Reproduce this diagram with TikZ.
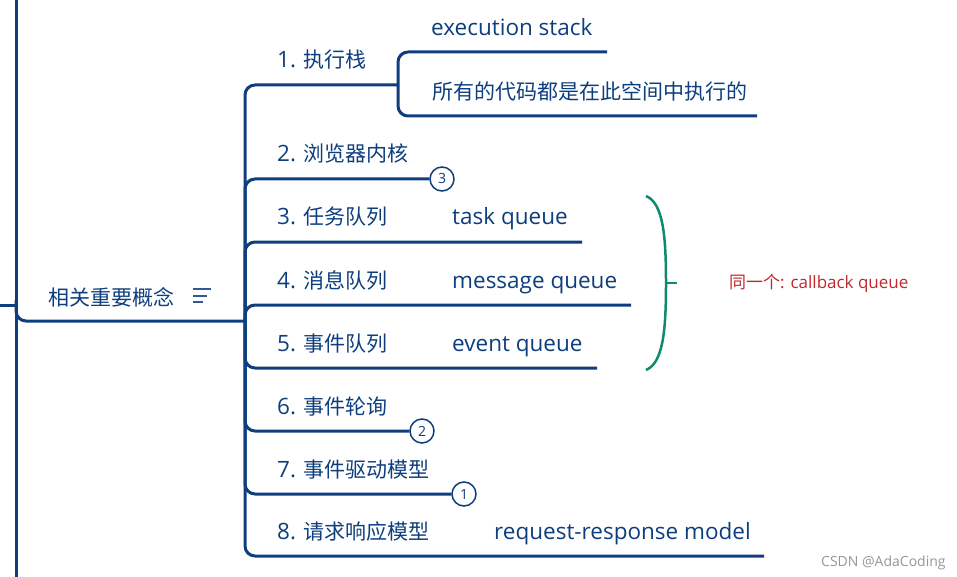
\documentclass[tikz,border=0pt]{standalone}
\usepackage{fontspec}
\setmainfont{Open Sans}
\newfontfamily\cjkfam{Noto Sans CJK SC}
\newcommand{\cjkt}[1]{{\fontsize{21}{24}\selectfont\cjkfam #1}}
\definecolor{mblue}{RGB}{14,62,126}
\definecolor{iblue}{RGB}{50,88,150}
\definecolor{mteal}{RGB}{16,138,110}
\definecolor{mred}{RGB}{192,40,45}
\definecolor{mgrey}{RGB}{150,150,150}
\begin{document}
\begin{tikzpicture}[x=1pt,y=-1pt,
  conn/.style={draw=mblue, line width=3pt, rounded corners=10pt},
  lbl/.style={anchor=base west, inner sep=0pt, text=mblue, font=\fontsize{22.5}{26}\selectfont},
  num/.style={circle, draw=mblue, line width=1.5pt, fill=white, minimum size=24pt, inner sep=0pt, text=mblue, font=\fontsize{14}{15}\selectfont},
  brace/.style={draw=mteal, line width=2.5pt}]
\useasboundingbox (0,0) rectangle (957,577);

% coordinates
\coordinate (top) at (16,0);
\coordinate (bot) at (16,577);
\coordinate (rootL) at (0,305);
\coordinate (rootR) at (16,305);
\coordinate (mstart) at (16,300);
\coordinate (P) at (245,321);
\coordinate (e1) at (398,85);
\coordinate (s1) at (607,52);
\coordinate (s2) at (757,116);
\coordinate (e3) at (582,242);
\coordinate (e4) at (631,305);
\coordinate (e5) at (597,368);
\coordinate (e8) at (764,556);

% root lines
\draw[conn] (top) -- (bot);
\draw[conn] (rootL) -- (rootR);
\draw[conn] (mstart) |- (P);

% circles
\node[num] (c3) at (442,179) {3};
\node[num] (c2) at (422,431) {2};
\node[num] (c1) at (464,494) {1};

% connectors
\draw[conn] (P) |- (e1);
\draw[conn] (e1) |- (s1);
\draw[conn] (e1) |- (s2);
\draw[conn] (P) |- (c3.west);
\draw[conn] (P) |- (e3);
\draw[conn] (P) |- (e4);
\draw[conn] (P) |- (e5);
\draw[conn] (P) |- (c2.west);
\draw[conn] (P) |- (c1.west);
\draw[conn] (P) |- (e8);

% labels
\node[lbl] (main) at (48,305) {\cjkt{相关重要概念}};
\draw[iblue, line width=2pt] (193,289) -- (211,289) (193,296) -- (207,296) (193,302) -- (203,302);

\node[lbl] (i1) at (277,68) {1. \cjkt{执行栈}};
\node[lbl] (i2) at (277,162) {2. \cjkt{浏览器内核}};
\node[lbl] (i3) at (277,225) {3. \cjkt{任务队列}};
\node[lbl] (i4) at (277,288) {4. \cjkt{消息队列}};
\node[lbl] (i5) at (277,351) {5. \cjkt{事件队列}};
\node[lbl] (i6) at (277,414) {6. \cjkt{事件轮询}};
\node[lbl] (i7) at (277,477) {7. \cjkt{事件驱动模型}};
\node[lbl] (i8) at (277,539) {8. \cjkt{请求响应模型}};

\node[lbl] (t1) at (431,36) {execution stack};
\node[lbl] (t2) at (432,100) {\cjkt{所有的代码都是在此空间中执行的}};
\node[lbl] (t3) at (452,225) {task queue};
\node[lbl] (t4) at (452,288) {message queue};
\node[lbl] (t5) at (452,351) {event queue};
\node[lbl] (t8) at (494,539) {request-response model};

% brace
\coordinate (b1) at (646,196);
\coordinate (bm) at (666,283);
\coordinate (b2) at (646,370);
\coordinate (bt) at (677,283);
\draw[brace] (b1) .. controls (663,203) and (666,235) .. (bm) .. controls (666,331) and (663,363) .. (b2);
\draw[brace] (bm) -- (bt);

\node[anchor=base west, inner sep=0pt, text=mred, font=\fontsize{17}{19}\selectfont] (note) at (729,288) {{\cjkfam 同一个}: callback queue};

\node[anchor=base west, inner sep=0pt, text=mgrey, font=\fontsize{14}{16}\selectfont] (wm) at (821,566) {CSDN @AdaCoding};
\end{tikzpicture}
\end{document}
